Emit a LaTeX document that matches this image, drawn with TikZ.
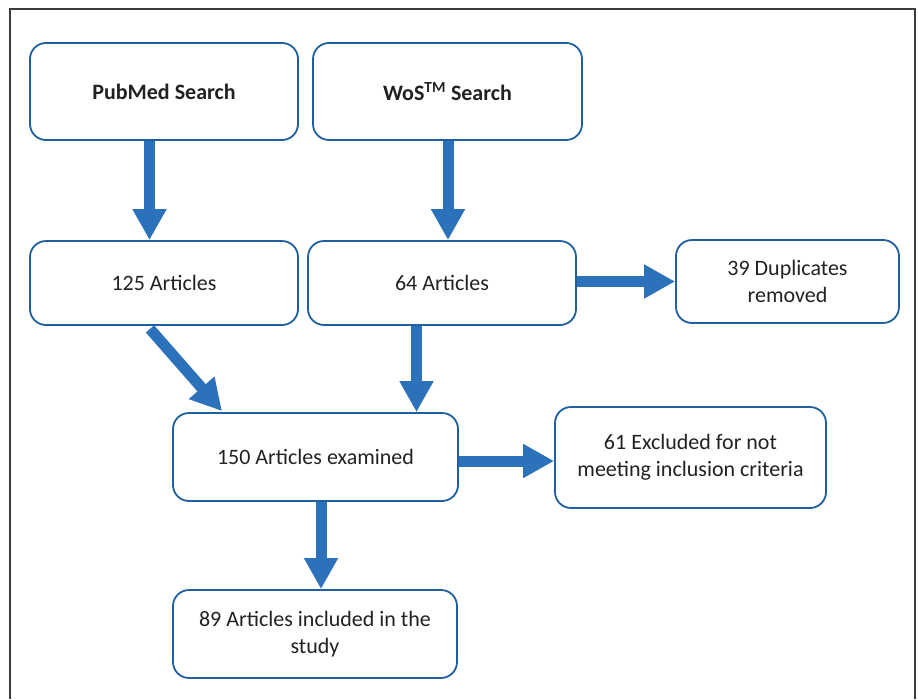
\documentclass[tikz,border=0pt]{standalone}
\usepackage{fontspec}
\setmainfont{Carlito}
\usetikzlibrary{arrows.meta}

\definecolor{boxblue}{RGB}{32,96,160}
\definecolor{arrowblue}{RGB}{44,114,186}
\definecolor{framegray}{RGB}{60,60,60}
\definecolor{textgray}{RGB}{34,34,34}

\tikzstyle{box}=[rectangle,rounded corners=16pt,draw=boxblue,line width=1.8pt,fill=white,inner sep=0pt,align=center,text=textgray,font=\fontsize{22}{27}\selectfont]
\tikzstyle{flow}=[draw=arrowblue,line width=11pt,-{Triangle[width=32pt,length=31pt,fill=arrowblue]}]

\begin{document}
\begin{tikzpicture}[x=1pt,y=1pt,node distance=180pt]
  \tikzstyle{frame}=[draw=framegray,line width=2pt]

  \useasboundingbox (0,0) rectangle (918,-699);
  \draw [frame] (10,-699) -- (10,-9) -- (915,-9) -- (915,-699);

  \begin{scope}

    \node [box,minimum width=268pt,minimum height=97pt] (pub) at (164,-91.5) {\textbf{PubMed Search}};

    \node [box,minimum width=269pt,minimum height=97pt] (wos) [right of=pub,xshift=103.5pt] {\textbf{WoS\textsuperscript{TM} Search}};

    \node [box,minimum width=268pt,minimum height=84pt] (a125) [below of=pub,yshift=-11.5pt] {125 Articles};

    \node [box,minimum width=268pt,minimum height=84pt] (a64) [right of=a125,xshift=98pt] {64 Articles};

    \node [box,minimum width=223pt,minimum height=83pt] (dup) [right of=a64,xshift=165.5pt,yshift=1.5pt] {39 Duplicates\\removed};

    \node [box,minimum width=285pt,minimum height=88pt] (exam) [below of=a125,xshift=151.5pt,yshift=6pt] {150 Articles examined};

    \node [box,minimum width=271pt,minimum height=101pt] (excl) [right of=exam,xshift=195pt,yshift=-0.5pt] {61 Excluded for not\\meeting inclusion criteria};

    \node [box,minimum width=284pt,minimum height=88pt] (incl) [below of=exam,xshift=-0.5pt,yshift=3pt] {89 Articles included in the\\study};

    % arrows
    \coordinate (p1) at ([xshift=-14.5pt]pub.south);
    \draw [flow] (p1) -- (p1 |- a125.north);
    \coordinate (w1) at ([xshift=0.5pt]wos.south);
    \draw [flow] (w1) -- (w1 |- a64.north);
    \draw [flow] ([xshift=-14pt,yshift=-3pt]a125.south) -- ([xshift=-93.5pt,yshift=1pt]exam.north);
    \coordinate (s1) at ([xshift=-25.5pt]a64.south);
    \draw [flow] (s1) -- (s1 |- exam.north);
    \draw [flow] (dup.west -| a64.east) -- (dup.west);
    \coordinate (e1) at ([yshift=-4pt]exam.east);
    \draw [flow] (e1) -- (e1 -| excl.west);
    \coordinate (x1) at ([xshift=5.5pt]exam.south);
    \draw [flow] (x1) -- (x1 |- incl.north);
  \end{scope}

\end{tikzpicture}
\end{document}
